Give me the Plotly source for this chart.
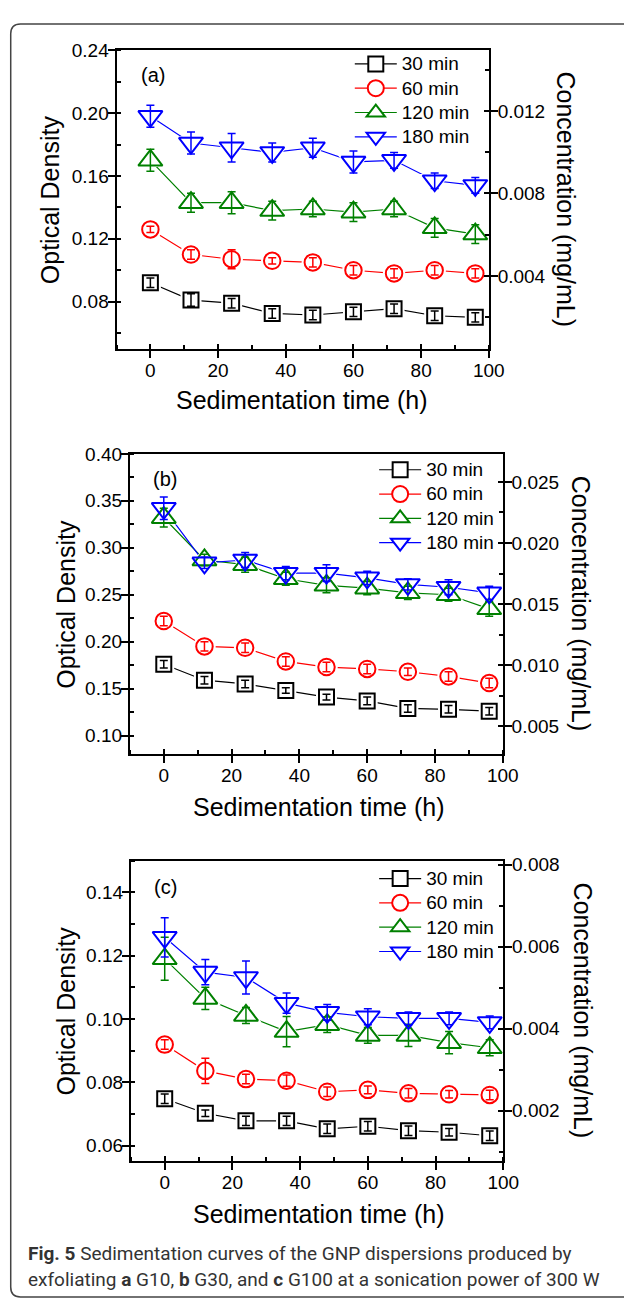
import plotly.graph_objects as go

# ---------------------------------------------------------------- data
hours = [0, 12, 24, 36, 48, 60, 72, 84, 96]
series_names = ["30 min", "60 min", "120 min", "180 min"]

# (a) G10
od_a_30 = [0.092, 0.081, 0.079, 0.0725, 0.0715, 0.0735, 0.0755, 0.071, 0.070]
od_a_60 = [0.126, 0.110, 0.107, 0.106, 0.105, 0.100, 0.098, 0.100, 0.098]
od_a_120 = [0.170, 0.143, 0.143, 0.138, 0.139, 0.137, 0.139, 0.127, 0.123]
od_a_180 = [0.198, 0.181, 0.178, 0.175, 0.178, 0.169, 0.170, 0.157, 0.154]
err_a_30 = [0.003, 0.004, 0.003, 0.003, 0.003, 0.003, 0.003, 0.003, 0.003]
err_a_60 = [0.002, 0.003, 0.006, 0.002, 0.003, 0.003, 0.003, 0.003, 0.003]
err_a_120 = [0.007, 0.006, 0.007, 0.006, 0.005, 0.006, 0.005, 0.006, 0.006]
err_a_180 = [0.007, 0.007, 0.009, 0.006, 0.006, 0.007, 0.005, 0.005, 0.005]

# (b) G30
od_b_30 = [0.176, 0.159, 0.155, 0.148, 0.141, 0.137, 0.129, 0.128, 0.126]
od_b_60 = [0.222, 0.195, 0.1935, 0.179, 0.173, 0.171, 0.168, 0.163, 0.156]
od_b_120 = [0.332, 0.287, 0.282, 0.267, 0.260, 0.257, 0.252, 0.250, 0.235]
od_b_180 = [0.342, 0.284, 0.287, 0.273, 0.273, 0.268, 0.261, 0.258, 0.252]
err_b_30 = [0.004, 0.004, 0.004, 0.003, 0.003, 0.004, 0.004, 0.004, 0.004]
err_b_60 = [0.005, 0.005, 0.005, 0.005, 0.005, 0.005, 0.004, 0.005, 0.005]
err_b_120 = [0.010, 0.006, 0.008, 0.007, 0.008, 0.007, 0.007, 0.007, 0.008]
err_b_180 = [0.012, 0.006, 0.008, 0.007, 0.009, 0.007, 0.006, 0.008, 0.007]

# (c) G100
od_c_30 = [0.0748, 0.0702, 0.0678, 0.0678, 0.0653, 0.0661, 0.0647, 0.0642, 0.0631]
od_c_60 = [0.0919, 0.0836, 0.0810, 0.0805, 0.0770, 0.0776, 0.0765, 0.0762, 0.0760]
od_c_120 = [0.1190, 0.1065, 0.1011, 0.0960, 0.0982, 0.0948, 0.0948, 0.0925, 0.0909]
od_c_180 = [0.1258, 0.1148, 0.1131, 0.1050, 0.1021, 0.1007, 0.1002, 0.1002, 0.0989]
err_c_30 = [0.0015, 0.0010, 0.0015, 0.0015, 0.0015, 0.0015, 0.0015, 0.0012, 0.0015]
err_c_60 = [0.0015, 0.0040, 0.0015, 0.0018, 0.0015, 0.0012, 0.0015, 0.0012, 0.0015]
err_c_120 = [0.0068, 0.0035, 0.0025, 0.0048, 0.0025, 0.0025, 0.0035, 0.0035, 0.0025]
err_c_180 = [0.0062, 0.0040, 0.0052, 0.0032, 0.0025, 0.0025, 0.0020, 0.0020, 0.0020]

# axis ranges / ticks
x_range = [-10, 100]
od_ranges = [[0.0498, 0.24], [0.0802, 0.40], [0.0551, 0.150]]
od_dticks = [0.04, 0.05, 0.02]
conc_ranges = [[0.00046, 0.01493], [0.0027, 0.0273], [0.00077, 0.0081]]
conc_dticks = [0.004, 0.005, 0.002]
panel_tags = ["(a)", "(b)", "(c)"]

caption_1 = "<b>Fig. 5</b> Sedimentation curves of the GNP dispersions produced by"
caption_2 = "exfoliating <b>a</b> G10, <b>b</b> G30, and <b>c</b> G100 at a sonication power of 300 W"

panels_od = [
    [od_a_30, od_a_60, od_a_120, od_a_180],
    [od_b_30, od_b_60, od_b_120, od_b_180],
    [od_c_30, od_c_60, od_c_120, od_c_180],
]
panels_err = [
    [err_a_30, err_a_60, err_a_120, err_a_180],
    [err_b_30, err_b_60, err_b_120, err_b_180],
    [err_c_30, err_c_60, err_c_120, err_c_180],
]

# ---------------------------------------------------------------- styling
W, H = 624, 1299
FONT = "Liberation Sans, Arial, sans-serif"
colors = ["#000000", "#ff0000", "#008000", "#0000ff"]
symbols = ["square-open", "circle-open", "triangle-up-open", "triangle-down-open"]
solid_symbols = ["square", "circle", "triangle-up", "triangle-down"]
sizes = [15, 16.5, 21, 21]
mask_pad = 6

# plot-area boxes in pixels: left, top, right, bottom
boxes = [
    (119.6, 40.7, 501.7, 341.7),
    (133.3, 447.3, 516.0, 750.0),
    (134.3, 857.3, 516.5, 1160.0),
]
ytitle_left = [(51, 191), (68, 599), (68, 1009)]
ytitle_right = [(581, 191), (596, 598), (598, 1008)]
xtitle = [(310, 393), (327, 803), (327, 1213)]
tag_pos = [(157, 66), (169, 473), (170, 884)]
legend_pos = [(359, 37), (384, 446), (384, 858)]


def fx(x):
    return x / W


def fy(y):
    return 1 - y / H


def legend_label(text):
    # larger glyphs than the legend's own font keep the rows compact
    return f"<span style='font-size:19px'>{text}</span>"


fig = go.Figure()
layout = dict(
    width=W, height=H,
    margin=dict(l=0, r=0, t=0, b=0),
    paper_bgcolor="white", plot_bgcolor="white",
    showlegend=True,
    font=dict(family=FONT, size=19, color="black"),
    annotations=[], shapes=[],
)

for p in range(3):
    xa = "x" if p == 0 else f"x{p + 1}"
    yl = "y" if p == 0 else f"y{2 * p + 1}"
    yr = f"y{2 * p + 2}"
    x_in = f"x{p + 4}"          # inner half of the crossing x ticks
    yr_in = f"y{p + 7}"         # inner half of the crossing right-axis ticks
    leg = "legend" if p == 0 else f"legend{p + 1}"
    od = panels_od[p]
    err = panels_err[p]

    # connecting lines (their markers also serve as the legend symbols)
    for s in range(4):
        fig.add_trace(go.Scatter(
            x=hours, y=od[s], xaxis=xa, yaxis=yl, mode="lines+markers",
            name=legend_label(series_names[s]), legend=leg, showlegend=True,
            line=dict(color=colors[s], width=1.2),
            marker=dict(symbol=solid_symbols[s], size=sizes[s], color="white",
                        line=dict(color=colors[s], width=2)),
            hoverinfo="skip",
        ))
    # white halos leave a small gap between lines and symbols
    for s in range(4):
        fig.add_trace(go.Scatter(
            x=hours, y=od[s], xaxis=xa, yaxis=yl, mode="markers", showlegend=False,
            marker=dict(symbol=solid_symbols[s], size=sizes[s] + mask_pad,
                        color="white", line=dict(width=0)),
            hoverinfo="skip",
        ))
    # open symbols with error bars
    for s in range(4):
        fig.add_trace(go.Scatter(
            x=hours, y=od[s], xaxis=xa, yaxis=yl, mode="markers", showlegend=False,
            marker=dict(symbol=symbols[s], size=sizes[s], color=colors[s],
                        line=dict(color=colors[s], width=2)),
            error_y=dict(type="data", array=err[s], visible=True,
                         color=colors[s], thickness=1.5, width=4),
            hoverinfo="skip",
        ))
    # empty traces that register the extra axes on this subplot
    for ax_x, ax_y in [(xa, yr), (x_in, yl), (xa, yr_in)]:
        fig.add_trace(go.Scatter(x=[None], y=[None], xaxis=ax_x, yaxis=ax_y,
                                 mode="markers", showlegend=False, hoverinfo="skip"))

    l, t, r, b = boxes[p]
    xdom = [fx(l), fx(r)]
    ydom = [fy(b), fy(t)]
    xkey = "xaxis" if p == 0 else f"xaxis{p + 1}"
    ylkey = "yaxis" if p == 0 else f"yaxis{2 * p + 1}"
    yrkey = f"yaxis{2 * p + 2}"

    tick_common = dict(
        showline=True, linecolor="black", linewidth=2,
        ticks="outside", ticklen=7, tickwidth=1.8, tickcolor="black",
        showgrid=False, zeroline=False,
        tickfont=dict(family=FONT, size=19, color="black"),
    )
    inner_common = dict(
        showline=False, showticklabels=False, showgrid=False, zeroline=False,
        ticks="inside", ticklen=5, tickwidth=1.8, tickcolor="black",
    )
    layout[xkey] = dict(
        domain=xdom, anchor=yl, range=x_range, tick0=0, dtick=20, mirror=True,
        minor=dict(dtick=10, tick0=0, ticks="inside", ticklen=4,
                   tickwidth=1.5, tickcolor="black"),
        ticklabelstandoff=-4,
        **tick_common,
    )
    layout[f"xaxis{p + 4}"] = dict(
        overlaying=xa, anchor=yl, side="bottom", range=x_range, tick0=0, dtick=20,
        **inner_common,
    )
    layout[ylkey] = dict(
        domain=ydom, anchor=xa, range=od_ranges[p], tick0=0, dtick=od_dticks[p],
        tickformat=".2f", mirror=True,
        minor=dict(dtick=od_dticks[p] / 2, tick0=0, ticks="inside", ticklen=4,
                   tickwidth=1.5, tickcolor="black"),
        ticklabelstandoff=-5,
        **tick_common,
    )
    layout[yrkey] = dict(
        overlaying=yl, side="right", anchor=xa, range=conc_ranges[p],
        tick0=0, dtick=conc_dticks[p], tickformat=".3f",
        minor=dict(dtick=conc_dticks[p] / 2, tick0=0, ticks="inside", ticklen=4,
                   tickwidth=1.5, tickcolor="black"),
        ticklabelstandoff=-4,
        **tick_common,
    )
    layout[f"yaxis{p + 7}"] = dict(
        overlaying=yl, side="right", anchor=xa, range=conc_ranges[p],
        tick0=0, dtick=conc_dticks[p],
        **inner_common,
    )

    lx, ly = legend_pos[p]
    layout[leg] = dict(
        x=fx(lx), y=fy(ly), xanchor="left", yanchor="top",
        bgcolor="rgba(0,0,0,0)", borderwidth=0, tracegroupgap=0, itemwidth=42,
        font=dict(family=FONT, size=16.4, color="black"),
        itemclick=False, itemdoubleclick=False,
    )

    ann = layout["annotations"]
    tx, ty = ytitle_left[p]
    ann.append(dict(text="Optical Density", x=fx(tx), y=fy(ty), xref="paper", yref="paper",
                    textangle=-90, showarrow=False, xanchor="center", yanchor="middle",
                    font=dict(family=FONT, size=25, color="black")))
    tx, ty = ytitle_right[p]
    ann.append(dict(text="Concentration (mg/mL)", x=fx(tx), y=fy(ty), xref="paper", yref="paper",
                    textangle=90, showarrow=False, xanchor="center", yanchor="middle",
                    font=dict(family=FONT, size=25, color="black")))
    tx, ty = xtitle[p]
    ann.append(dict(text="Sedimentation time (h)", x=fx(tx), y=fy(ty), xref="paper", yref="paper",
                    showarrow=False, xanchor="center", yanchor="middle",
                    font=dict(family=FONT, size=25, color="black")))
    tx, ty = tag_pos[p]
    ann.append(dict(text=panel_tags[p], x=fx(tx), y=fy(ty), xref="paper", yref="paper",
                    showarrow=False, xanchor="center", yanchor="middle",
                    font=dict(family=FONT, size=20, color="black")))

# caption
CAP_FONT = "Roboto, sans-serif"
for text, yy in [(caption_1, 1253), (caption_2, 1279)]:
    layout["annotations"].append(dict(
        text=text, x=fx(27), y=fy(yy), xref="paper", yref="paper",
        showarrow=False, xanchor="left", yanchor="middle",
        font=dict(family=CAP_FONT, size=19, color="#333333")))

# rounded frame around the figure
x0, y0, x1, y1, rr = 11, 14, 660, 1297, 10
path = (f"M{fx(x0)},{fy(y0 + rr)} L{fx(x0)},{fy(y1 - rr)} "
        f"Q{fx(x0)},{fy(y1)} {fx(x0 + rr)},{fy(y1)} L{fx(x1)},{fy(y1)} "
        f"L{fx(x1)},{fy(y0)} L{fx(x0 + rr)},{fy(y0)} "
        f"Q{fx(x0)},{fy(y0)} {fx(x0)},{fy(y0 + rr)} Z")
layout["shapes"].append(dict(type="path", path=path, xref="paper", yref="paper",
                             line=dict(color="#444444", width=1.5), layer="below"))

fig.update_layout(**layout)
fig.write_html("out.html")
